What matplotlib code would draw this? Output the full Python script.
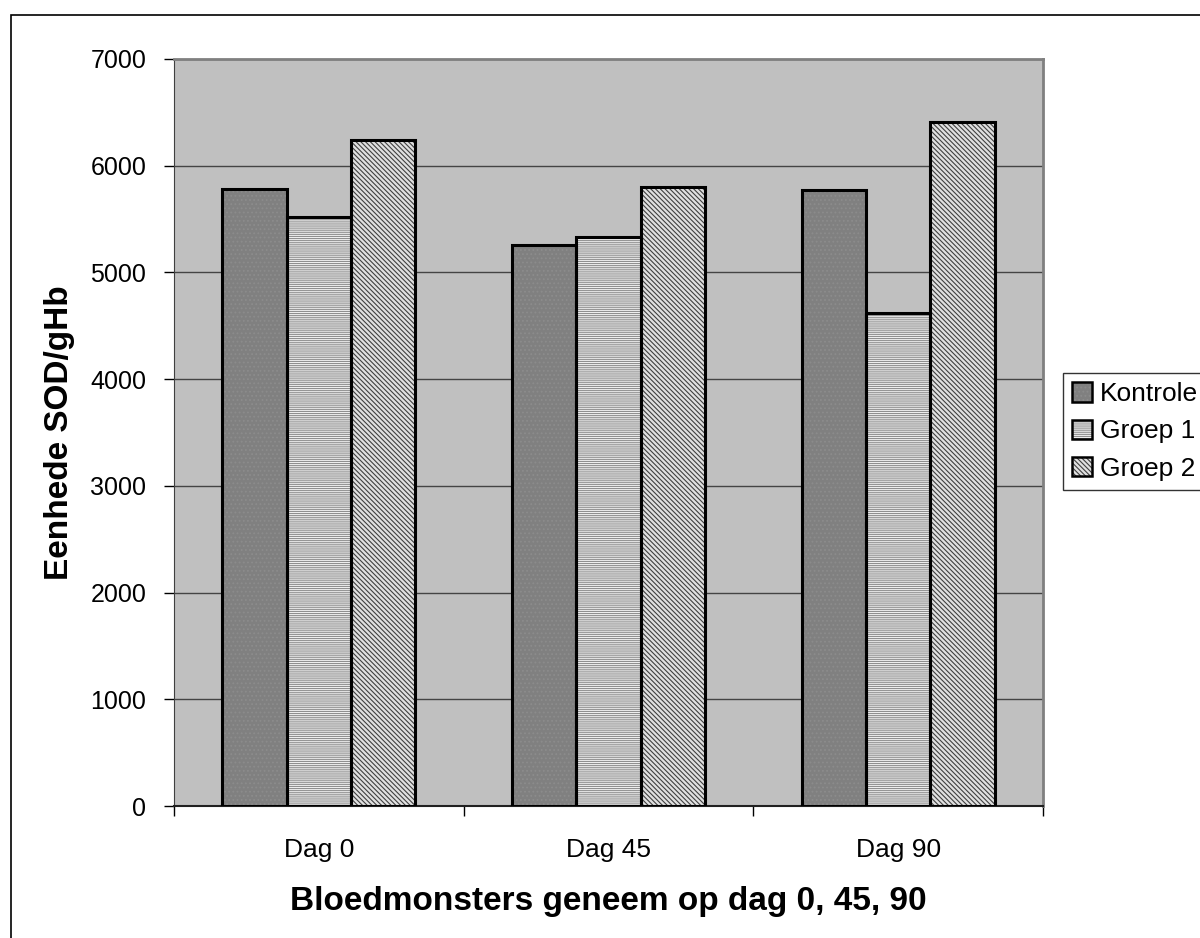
import matplotlib
matplotlib.use("Agg")
import matplotlib.pyplot as plt
import numpy as np
from matplotlib.patches import Rectangle, Patch
from matplotlib.legend_handler import HandlerTuple

plt.rcParams['font.family'] = ['Liberation Sans', 'DejaVu Sans']
plt.rcParams['hatch.linewidth'] = 0.8

categories = ["Dag 0", "Dag 45", "Dag 90"]
series_names = ["Kontrole", "Groep 1", "Groep 2"]
kontrole = [5780, 5255, 5770]
groep1 = [5515, 5330, 4620]
groep2 = [6240, 5800, 6405]
yticks = [0, 1000, 2000, 3000, 4000, 5000, 6000, 7000]

# fill, hatch, hatch colour per series
styles = [
    ("#808080", "....", "#8c8c8c"),
    ("#f2f2f2", "--------", "#909090"),
    ("#e0e0e0", "\\\\\\\\\\\\\\", "#404040"),
]

fig = plt.figure(figsize=(12, 9.38), dpi=100)
fig.patches.append(Rectangle((11 / 1200, -0.01), 1.0, (938 - 15) / 938 + 0.01,
                             transform=fig.transFigure, fill=False,
                             edgecolor="black", linewidth=1.2))
ax = fig.add_axes([174 / 1200, 1 - 806 / 938, (1043 - 174) / 1200, (806 - 59) / 938])
ax.set_facecolor("#c0c0c0")

x = np.arange(len(categories))
w = 0.222
data = [kontrole, groep1, groep2]
for i, (vals, (fc, hatch, hc)) in enumerate(zip(data, styles)):
    pos = x + (i - 1) * w
    ax.bar(pos, vals, w, color=fc, hatch=hatch, edgecolor=hc, linewidth=0, zorder=3)
    ax.bar(pos, vals, w, fill=False, edgecolor="black", linewidth=2.2, zorder=4)

ax.set_xlim(-0.5, len(categories) - 0.5)
ax.set_ylim(0, 7000)
ax.set_yticks(yticks)
ax.set_yticklabels([str(v) for v in yticks], fontsize=18)
ax.yaxis.grid(True, color="#444444", linewidth=1, zorder=1)
ax.set_axisbelow(True)
ax.set_xticks(x)
ax.set_xticklabels(categories, fontsize=19)
ax.set_xticks([-0.5, 0.5, 1.5, 2.5], minor=True)
ax.tick_params(axis="x", which="major", length=0, pad=23)
ax.tick_params(axis="x", which="minor", length=7, width=1, direction="out")
ax.tick_params(axis="y", length=7, width=1, direction="out", pad=13)

for s in ["top", "right"]:
    ax.spines[s].set_color("#808080")
    ax.spines[s].set_linewidth(2)
ax.spines["left"].set_color("#404040")
ax.spines["bottom"].set_color("#202020")
ax.spines["bottom"].set_linewidth(1.5)

ax.set_ylabel("Eenhede SOD/gHb", fontsize=24, fontweight="bold", labelpad=11)
ax.set_xlabel("Bloedmonsters geneem op dag 0, 45, 90", fontsize=24, fontweight="bold", labelpad=17)

handles = [(Patch(facecolor=fc, hatch=h, edgecolor=hc, linewidth=0),
            Patch(fill=False, edgecolor="black", linewidth=1.8)) for fc, h, hc in styles]
leg = fig.legend(handles, series_names, loc="upper left", bbox_to_anchor=(1063 / 1200, 1 - 373 / 938),
                 handler_map={tuple: HandlerTuple(ndivide=1)},
                 fontsize=19, frameon=True, fancybox=False, edgecolor="black",
                 handlelength=0.75, handleheight=0.75, handletextpad=0.3,
                 borderpad=0.35, labelspacing=0.5, borderaxespad=0)
leg.get_frame().set_linewidth(1)

fig.savefig("out.png", dpi=100)
